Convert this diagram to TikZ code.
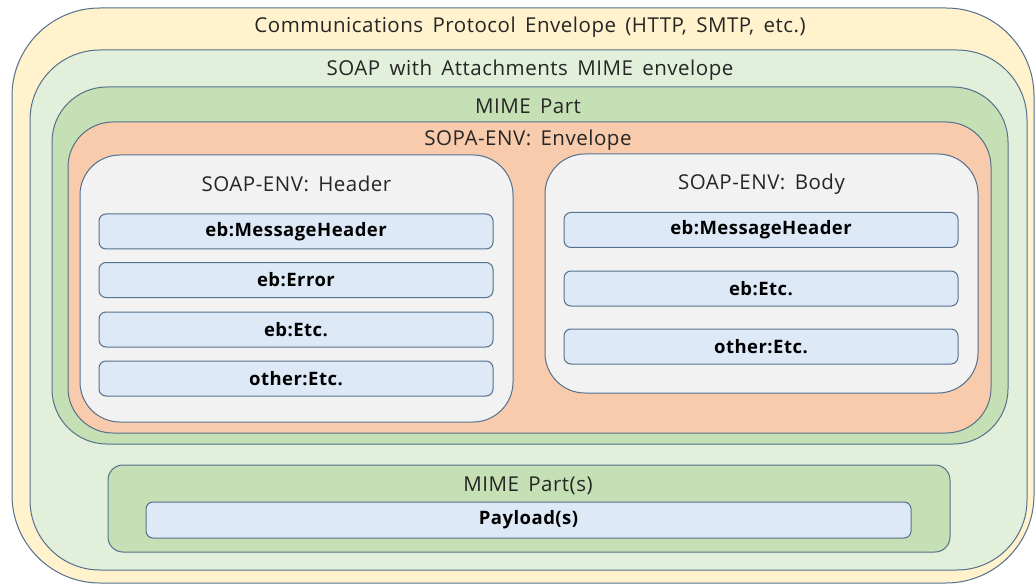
\documentclass[tikz,border=0pt]{standalone}
\usepackage{fontspec}
\setmainfont{Open Sans}[LetterSpace = 2.5, WordSpace = 1.6]
\usetikzlibrary{positioning}

\definecolor{edge}{RGB}{84,112,140}
\definecolor{cream}{RGB}{255,242,204}
\definecolor{palegreen}{RGB}{226,239,218}
\definecolor{midgreen}{RGB}{197,224,180}
\definecolor{salmon}{RGB}{248,203,173}
\definecolor{lightgray}{RGB}{242,242,242}
\definecolor{paleblue}{RGB}{221,233,246}

\begin{document}
\begin{tikzpicture}[x = 1pt, y = -1pt]
	\tikzstyle {layer} = [draw = edge, line width = 1pt, inner sep = 0pt];
	\tikzstyle {title} = [inner sep = 0pt, text = black!85, font = \fontsize{20.5}{23}\selectfont];
	\tikzstyle {entry} = [layer, fill = paleblue, rounded corners = 7pt, minimum width = 394pt, minimum height = 35pt, font = \bfseries\fontsize{18.5}{21}\selectfont];
	\useasboundingbox[fill = white] (0, 0) rectangle (1035, 585);
	\node[layer, fill = cream, rounded corners = 88pt, minimum width = 1022pt, minimum height = 575pt] (protocol) at (523, 295.5) {};
	\node[layer, fill = palegreen, rounded corners = 70pt, minimum width = 997pt, minimum height = 520pt] (attachments) at (528.5, 310) {};
	\node[layer, fill = midgreen, rounded corners = 55pt, minimum width = 956pt, minimum height = 357pt] (mimepart) at (530, 265.5) {};
	\node[layer, fill = salmon, rounded corners = 45pt, minimum width = 923pt, minimum height = 311pt] (envelope) at (529.5, 277.5) {};
	\node[layer, fill = lightgray, rounded corners = 40pt, minimum width = 433pt, minimum height = 267pt] (header) at (296.5, 288.5) {};
	\node[layer, fill = lightgray, rounded corners = 40pt, minimum width = 433pt, minimum height = 239pt] (body) at (761.5, 273.5) {};
	\node[layer, fill = midgreen, rounded corners = 15pt, minimum width = 842pt, minimum height = 87pt] (mimeparts) at (529, 508.5) {};
	\node[entry, minimum width = 765pt, minimum height = 36pt] (payload) at (528.5, 520) {Payload(s)};
	\node[title] (protocoltitle) at (530, 27) {Communications Protocol Envelope (HTTP, SMTP, etc.)};
	\node[title] (attachmentstitle) at (530, 70) {SOAP with Attachments MIME envelope};
	\node[title] (mimeparttitle) at (528, 106) {MIME Part};
	\node[title] (envelopetitle) at (528, 140) {SOPA-ENV: Envelope};
	\node[title] (headertitle) at (296.5, 184) {SOAP-ENV: Header};
	\node[title] (bodytitle) at (761.5, 184) {SOAP-ENV: Body};
	\node[title] (mimepartstitle) at (528, 486) {MIME Part(s)};
	\foreach \nodename/\nodetext/\ypos in {headermsg/eb:MessageHeader/231.5, headererror/eb:Error/280, headeretc/eb:Etc./329.5, headerother/other:Etc./378.5} {
			\node[entry] (\nodename) at (296, \ypos) {\nodetext};
		}
	\foreach \nodename/\nodetext/\ypos in {bodymsg/eb:MessageHeader/230, bodyetc/eb:Etc./288.5, bodyother/other:Etc./346.5} {
			\node[entry] (\nodename) at (761, \ypos) {\nodetext};
		}
\end{tikzpicture}
\end{document}
